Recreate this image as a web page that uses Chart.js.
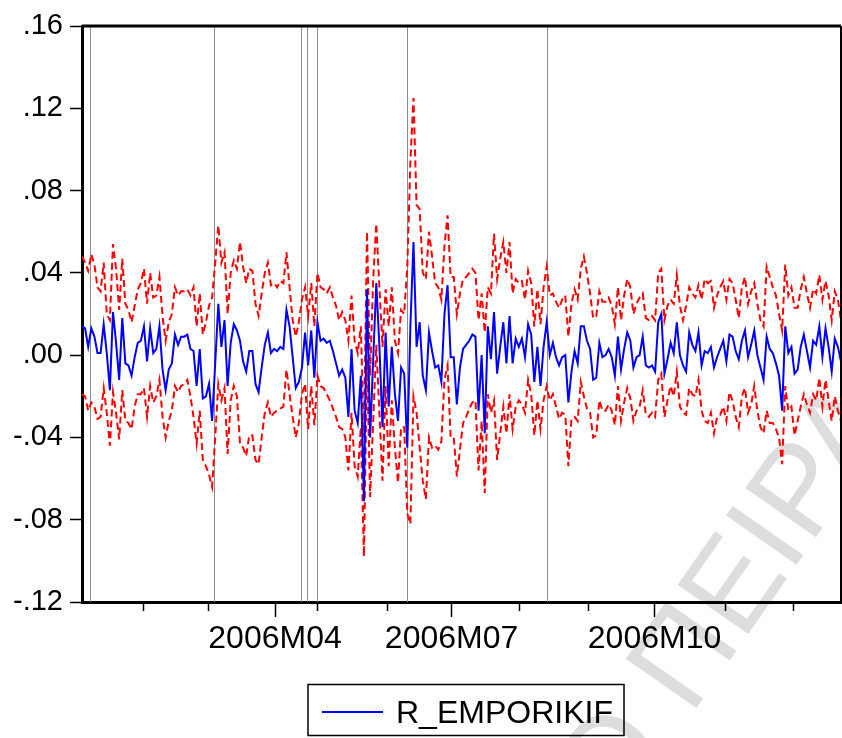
<!DOCTYPE html>
<html>
<head>
<meta charset="utf-8">
<script src="https://cdn.jsdelivr.net/npm/chart.js@4.4.1/dist/chart.umd.min.js"></script>
<style>
  html, body { margin: 0; padding: 0; background: #fff; }
  #wrap { width: 842px; height: 738px; }
</style>
</head>
<body>
<div id="wrap"><canvas id="myChart" width="842" height="738"></canvas></div>
<script>
// daily observations, 2006 (index = observation number)
const forecast = [
  0.014, 0.013, 0.004, 0.013, 0.009, 0.001, 0.001, 0.015, 0.001, -0.017,
  0.021, 0.006, -0.012, 0.018, -0.004, -0.005, -0.010, -0.001, 0.006, 0.007,
  0.014, -0.003, 0.013, 0.001, 0.003, 0.014, -0.007, -0.017, -0.007, -0.004,
  0.010, 0.005, 0.009, 0.009, 0.010, 0.003, 0.002, -0.015, 0.003, -0.021,
  -0.020, -0.014, -0.032, -0.004, 0.025, 0.004, 0.017, -0.015, 0.006, 0.015,
  0.012, 0.007, -0.003, -0.008, 0.002, 0.002, -0.014, -0.018, -0.006, 0.005,
  0.011, 0.001, 0.003, 0.002, 0.004, 0.003, 0.022, 0.014, -0.001, -0.016,
  -0.013, -0.006, 0.011, -0.005, 0.012, -0.011, 0.016, 0.007, 0.008, 0.006,
  0.007, 0.002, -0.004, -0.010, -0.007, -0.011, -0.030, 0.003, -0.027, -0.033,
  -0.010, -0.071, 0.032, -0.040, -0.002, 0.035, 0.004, -0.035, 0.011, -0.025,
  0.004, -0.019, -0.032, -0.006, -0.009, -0.045, 0.014, 0.055, 0.004, 0.016,
  -0.010, -0.017, 0.011, 0.002, -0.006, -0.005, -0.013, 0.020, 0.034, -0.001,
  -0.001, -0.024, -0.006, 0.003, 0.005, 0.007, 0.010, 0.009, -0.027, 0.000,
  -0.038, 0.014, -0.002, 0.021, -0.009, 0.004, 0.016, -0.004, 0.019, -0.004,
  0.008, 0.004, 0.008, -0.001, 0.015, 0.010, -0.013, 0.004, -0.015, 0.004,
  0.016, 0.000, 0.006, -0.001, -0.005, -0.001, 0.000, -0.023, -0.008, 0.002,
  -0.004, 0.014, 0.014, 0.007, 0.003, -0.012, -0.011, 0.006, -0.001, 0.000,
  0.003, -0.001, -0.010, 0.009, -0.007, 0.003, 0.011, 0.007, -0.006, -0.001,
  0.000, 0.009, -0.005, -0.006, -0.005, -0.008, 0.016, 0.020, -0.009, -0.002,
  0.006, 0.001, 0.016, 0.000, -0.005, -0.008, 0.011, 0.005, 0.002, 0.011,
  -0.005, 0.002, 0.001, 0.004, -0.006, -0.001, 0.003, 0.007, -0.003, 0.010,
  0.009, 0.002, -0.002, 0.007, 0.012, -0.001, 0.005, 0.012, 0.000, -0.006,
  -0.012, 0.009, 0.003, 0.001, -0.004, -0.010, -0.027, 0.014, 0.001, 0.004,
  -0.009, -0.007, 0.004, 0.010, 0.002, -0.006, 0.007, 0.005, 0.014, -0.001,
  0.013, 0.004, -0.008, 0.008, 0.004, -0.003
];

const upperBand = [
  0.048, 0.045, 0.041, 0.049, 0.044, 0.033, 0.031, 0.045, 0.020, 0.017,
  0.054, 0.042, 0.022, 0.047, 0.025, 0.022, 0.016, 0.024, 0.032, 0.035,
  0.042, 0.025, 0.040, 0.028, 0.029, 0.038, 0.019, 0.007, 0.016, 0.020,
  0.033, 0.029, 0.031, 0.031, 0.032, 0.029, 0.033, 0.014, 0.030, 0.010,
  0.016, 0.024, 0.028, 0.045, 0.063, 0.045, 0.050, 0.020, 0.040, 0.046,
  0.042, 0.055, 0.043, 0.035, 0.042, 0.041, 0.025, 0.019, 0.030, 0.040,
  0.045, 0.034, 0.035, 0.033, 0.036, 0.035, 0.050, 0.033, 0.017, 0.009,
  0.016, 0.027, 0.033, 0.019, 0.035, 0.014, 0.040, 0.033, 0.032, 0.030,
  0.033, 0.028, 0.024, 0.017, 0.021, 0.017, 0.007, 0.029, 0.007, 0.001,
  0.014, -0.040, 0.060, -0.010, 0.037, 0.064, 0.033, 0.004, 0.032, 0.014,
  0.033, 0.007, 0.001, 0.022, 0.020, 0.043, 0.094, 0.125, 0.073, 0.071,
  0.040, 0.037, 0.060, 0.048, 0.035, 0.033, 0.027, 0.053, 0.068, 0.038,
  0.038, 0.020, 0.030, 0.037, 0.038, 0.040, 0.042, 0.040, 0.017, 0.030,
  0.011, 0.033, 0.030, 0.059, 0.037, 0.047, 0.055, 0.040, 0.055, 0.030,
  0.037, 0.035, 0.036, 0.027, 0.041, 0.035, 0.014, 0.032, 0.015, 0.033,
  0.043, 0.029, 0.030, 0.026, 0.023, 0.027, 0.029, 0.009, 0.025, 0.032,
  0.027, 0.042, 0.048, 0.040, 0.030, 0.018, 0.019, 0.031, 0.026, 0.026,
  0.028, 0.024, 0.015, 0.033, 0.017, 0.029, 0.037, 0.033, 0.020, 0.025,
  0.028, 0.030, 0.018, 0.017, 0.019, 0.017, 0.040, 0.042, 0.017, 0.024,
  0.027, 0.025, 0.039, 0.024, 0.017, 0.024, 0.033, 0.030, 0.028, 0.034,
  0.027, 0.037, 0.035, 0.036, 0.023, 0.029, 0.033, 0.036, 0.027, 0.037,
  0.035, 0.027, 0.018, 0.033, 0.038, 0.025, 0.031, 0.035, 0.025, 0.017,
  0.014, 0.043, 0.038, 0.033, 0.029, 0.020, 0.012, 0.044, 0.029, 0.033,
  0.023, 0.023, 0.032, 0.038, 0.030, 0.023, 0.032, 0.030, 0.039, 0.027,
  0.036, 0.029, 0.017, 0.031, 0.027, 0.017
];

const lowerBand = [
  -0.019, -0.020, -0.027, -0.023, -0.025, -0.031, -0.030, -0.016, -0.028, -0.044,
  -0.018, -0.028, -0.041, -0.017, -0.032, -0.033, -0.036, -0.025, -0.019, -0.019,
  -0.016, -0.030, -0.015, -0.023, -0.020, -0.012, -0.030, -0.040, -0.032, -0.027,
  -0.015, -0.018, -0.015, -0.014, -0.012, -0.020, -0.030, -0.043, -0.027, -0.051,
  -0.054, -0.058, -0.064, -0.040, -0.014, -0.022, -0.016, -0.048, -0.022, -0.015,
  -0.020, -0.043, -0.045, -0.049, -0.039, -0.039, -0.051, -0.053, -0.040, -0.028,
  -0.023, -0.030, -0.028, -0.027, -0.026, -0.025, -0.007, -0.019, -0.030, -0.040,
  -0.033, -0.019, -0.014, -0.036, -0.015, -0.034, -0.010, -0.015, -0.016, -0.019,
  -0.022, -0.026, -0.030, -0.035, -0.036, -0.040, -0.056, -0.028, -0.054, -0.059,
  -0.035, -0.098, -0.002, -0.069, -0.032, 0.005, -0.028, -0.061, -0.015, -0.054,
  -0.022, -0.045, -0.062, -0.035, -0.035, -0.077, -0.082, -0.020, -0.028, -0.045,
  -0.061, -0.070, -0.040, -0.045, -0.044, -0.046, -0.042, -0.012, -0.005, -0.040,
  -0.040, -0.059, -0.046, -0.033, -0.030, -0.026, -0.023, -0.022, -0.056, -0.032,
  -0.067, -0.019, -0.028, -0.022, -0.051, -0.038, -0.025, -0.038, -0.019, -0.036,
  -0.025, -0.022, -0.024, -0.028, -0.012, -0.019, -0.039, -0.022, -0.036, -0.022,
  -0.015, -0.022, -0.019, -0.025, -0.031, -0.028, -0.029, -0.054, -0.031, -0.030,
  -0.032, -0.013, -0.020, -0.026, -0.028, -0.040, -0.039, -0.022, -0.027, -0.027,
  -0.024, -0.027, -0.034, -0.015, -0.032, -0.023, -0.016, -0.021, -0.032, -0.027,
  -0.025, -0.017, -0.029, -0.030, -0.028, -0.030, -0.012, -0.009, -0.030, -0.022,
  -0.015, -0.020, -0.008, -0.025, -0.028, -0.029, -0.016, -0.019, -0.020, -0.012,
  -0.027, -0.032, -0.033, -0.028, -0.038, -0.030, -0.029, -0.025, -0.032, -0.018,
  -0.022, -0.030, -0.035, -0.020, -0.016, -0.028, -0.024, -0.015, -0.027, -0.035,
  -0.038, -0.027, -0.033, -0.033, -0.036, -0.040, -0.053, -0.015, -0.027, -0.025,
  -0.039, -0.032, -0.025, -0.019, -0.024, -0.028, -0.019, -0.022, -0.011, -0.025,
  -0.012, -0.022, -0.032, -0.020, -0.027, -0.032
];

// month starts (observation number) and their labels
const monthTicks = [19.8, 40.7, 62.3, 75.8, 98.4, 119.3, 141.2, 163.2, 184.8, 207.5, 229.5];
const monthLabels = ['', '', '2006M04', '', '', '2006M07', '', '', '2006M10', '', ''];

// vertical reference lines (observation number)
const markerLines = [2.6, 42.6, 70.7, 72.6, 75.9, 104.9, 150.1];

const yTicks = [-0.12, -0.08, -0.04, 0, 0.04, 0.08, 0.12, 0.16];
const seriesName = 'R_EMPORIKIF';
const watermark = 'ΠΑΝΕΠΙΣΤΗΜΙΟ ΠΕΙΡΑΙΩΣ';

const FONT = '"Liberation Sans", Arial, Helvetica, sans-serif';
const toXY = arr => arr.map((v, i) => ({ x: i, y: v }));

const fmtY = v => {
    if (Math.abs(v) < 1e-9) return '.00';
    const s = Math.abs(v).toFixed(2).replace(/^0/, '');
    return v < 0 ? '-' + s : s;
};

const extras = {
    id: 'extras',
    beforeDraw(chart) {
        // faint diagonal watermark behind everything
        const { ctx } = chart;
        ctx.save();
        ctx.fillStyle = '#dddddd';
        ctx.font = '125px ' + FONT;
        const ang = -55 * Math.PI / 180;
        const lead = ctx.measureText('ΠΑΝΕΠΙΣΤΗΜΙΟ ΠΕ').width + 0.139 * 125;
        ctx.translate(800 - Math.cos(ang) * lead, 560 - Math.sin(ang) * lead);
        ctx.rotate(ang);
        ctx.fillText(watermark, 0, 0);
        ctx.restore();
    },
    beforeDatasetsDraw(chart) {
        const { ctx, chartArea: a, scales: { x } } = chart;
        ctx.save();
        ctx.strokeStyle = '#8c8c8c';
        ctx.lineWidth = 1;
        markerLines.forEach(v => {
            const px = Math.round(x.getPixelForValue(v)) + 0.5;
            ctx.beginPath();
            ctx.moveTo(px, a.top);
            ctx.lineTo(px, a.bottom);
            ctx.stroke();
        });
        ctx.restore();
    },
    afterDraw(chart) {
        const { ctx, chartArea: a, scales: { x } } = chart;
        ctx.save();
        // frame top / right
        ctx.strokeStyle = '#000';
        ctx.lineWidth = 3;
        ctx.beginPath();
        ctx.moveTo(a.left, a.top);
        ctx.lineTo(a.right, a.top);
        ctx.stroke();
        ctx.lineWidth = 2;
        ctx.beginPath();
        ctx.moveTo(a.right, a.top);
        ctx.lineTo(a.right, a.bottom);
        ctx.stroke();

        // minor month ticks
        ctx.lineWidth = 1.5;
        monthTicks.forEach((v, i) => {
            if (monthLabels[i]) return;
            const px = Math.round(x.getPixelForValue(v)) + 0.5;
            ctx.beginPath();
            ctx.moveTo(px, a.bottom);
            ctx.lineTo(px, a.bottom + 9);
            ctx.stroke();
        });

        // legend box
        ctx.fillStyle = '#fff';
        ctx.lineWidth = 1.5;
        ctx.strokeRect(308, 684.5, 316, 51);
        ctx.strokeStyle = '#0000ff';
        ctx.lineWidth = 2;
        ctx.beginPath();
        ctx.moveTo(322, 712);
        ctx.lineTo(383, 712);
        ctx.stroke();
        ctx.fillStyle = '#000';
        ctx.font = '32px ' + FONT;
        ctx.textBaseline = 'alphabetic';
        ctx.fillText(seriesName, 396, 723);
        ctx.restore();
    }
};

const chart = new Chart(
    document.getElementById('myChart'),
    {
        type: 'line',
        data: {
            datasets: [
                {
                    label: seriesName,
                    data: toXY(forecast),
                    borderColor: '#0000ff',
                    borderWidth: 2,
                    order: 0
                },
                {
                    label: 'upper',
                    data: toXY(upperBand),
                    borderColor: '#ff0000',
                    borderWidth: 2,
                    borderDash: [7, 4],
                    order: 1
                },
                {
                    label: 'lower',
                    data: toXY(lowerBand),
                    borderColor: '#ff0000',
                    borderWidth: 2,
                    borderDash: [7, 4],
                    order: 2
                }
            ]
        },
        options: {
            responsive: false,
            animation: false,
            devicePixelRatio: 1,
            layout: { padding: { top: 26, right: 1, left: 0, bottom: 0 } },
            elements: { point: { radius: 0 }, line: { tension: 0 } },
            plugins: { legend: { display: false }, tooltip: { enabled: false } },
            scales: {
                x: {
                    type: 'linear',
                    min: 0,
                    max: forecast.length - 1,
                    afterFit: s => { s.height = 136; },
                    afterBuildTicks: s => { s.ticks = monthTicks.map(v => ({ value: v })); },
                    border: { display: true, color: '#000', width: 3 },
                    grid: {
                        display: true,
                        drawOnChartArea: false,
                        drawTicks: true,
                        tickLength: 15,
                        tickWidth: 1.5,
                        tickColor: c => (monthLabels[c.index] ? '#000' : 'rgba(0,0,0,0)')
                    },
                    ticks: {
                        autoSkip: false,
                        maxRotation: 0,
                        padding: 3,
                        color: '#000',
                        font: { size: 32, family: FONT },
                        callback: (v, i) => monthLabels[i]
                    }
                },
                y: {
                    min: -0.12,
                    max: 0.16,
                    afterFit: s => { s.width = 82; },
                    afterBuildTicks: s => { s.ticks = yTicks.map(v => ({ value: v })); },
                    border: { display: true, color: '#000', width: 3 },
                    grid: {
                        display: true,
                        drawOnChartArea: false,
                        drawTicks: true,
                        tickLength: 12,
                        tickWidth: 1.5,
                        tickColor: '#000'
                    },
                    ticks: {
                        padding: 7,
                        color: '#000',
                        font: { size: 29, family: FONT },
                        callback: v => fmtY(v)
                    }
                }
            }
        },
        plugins: [extras]
});
</script>
</body>
</html>
